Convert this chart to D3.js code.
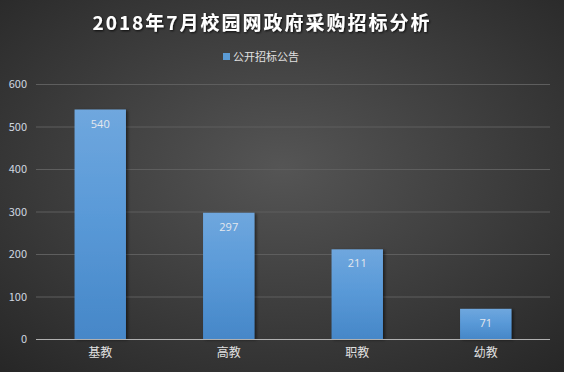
<!DOCTYPE html>
<html><head><meta charset="utf-8">
<script src="https://cdn.jsdelivr.net/npm/d3@7/dist/d3.min.js"></script>
<style>body{margin:0;background:#333;}svg{display:block;}</style>
</head><body>
<svg id="c" width="564" height="372"></svg>
<script>
const categories = ["基教", "高教", "职教", "幼教"];
const values = [540, 297, 211, 71];
const yTicks = [0, 100, 200, 300, 400, 500, 600];
const seriesName = "公开招标公告";
const titleText = "2018年7月校园网政府采购招标分析";

const W = 564, H = 372;
const svg = d3.select("#c");
const defs = svg.append("defs");
const bg = defs.append("radialGradient").attr("id","bg").attr("cx","50%").attr("cy","45%").attr("r","75%");
bg.append("stop").attr("offset","0%").attr("stop-color","#555555");
bg.append("stop").attr("offset","100%").attr("stop-color","#262626");
const bar = defs.append("linearGradient").attr("id","bar").attr("x1",0).attr("y1",0).attr("x2",0).attr("y2",1);
bar.append("stop").attr("offset","0%").attr("stop-color","#6fa7de");
bar.append("stop").attr("offset","45%").attr("stop-color","#5a9ad8");
bar.append("stop").attr("offset","100%").attr("stop-color","#4687c8");
const sh = defs.append("filter").attr("id","sh").attr("x","-20%").attr("y","-20%").attr("width","150%").attr("height","150%");
sh.append("feDropShadow").attr("dx",2).attr("dy",1).attr("stdDeviation",1.5).attr("flood-color","#000").attr("flood-opacity",0.5);
const tsh = defs.append("filter").attr("id","tsh");
tsh.append("feDropShadow").attr("dx",1).attr("dy",1).attr("stdDeviation",0.8).attr("flood-color","#000").attr("flood-opacity",0.8);

svg.append("rect").attr("width",W).attr("height",H).attr("fill","url(#bg)");

const x = d3.scaleBand().domain(categories).range([36, 550]).paddingInner(0.6).paddingOuter(0.3);
const y = d3.scaleLinear().domain([0, 600]).range([339, 84]);

// grid
svg.append("g").selectAll("line").data(yTicks.filter(d=>d>0)).join("line")
  .attr("x1",36).attr("x2",550).attr("y1",d=>y(d)+0.5).attr("y2",d=>y(d)+0.5)
  .attr("stroke","#5e5e5e").attr("stroke-width",1);

// y axis labels
const yAxis = d3.axisLeft(y).tickValues(yTicks).tickSize(0).tickPadding(0);
const ya = svg.append("g").attr("transform","translate(27,0)").call(yAxis);
ya.select(".domain").remove();
ya.selectAll("text").attr("fill","#d0d8e0").style("font-family","'Noto Sans CJK SC', 'Open Sans', sans-serif").style("font-size","11px");

// bars
svg.append("g").selectAll("rect").data(values).join("rect")
  .attr("x",(d,i)=>x(categories[i])).attr("width",x.bandwidth())
  .attr("y",d=>y(d)).attr("height",d=>y(0)-y(d))
  .attr("fill","url(#bar)").attr("filter","url(#sh)");

// value labels
svg.append("g").selectAll("text").data(values).join("text")
  .attr("x",(d,i)=>x(categories[i])+x.bandwidth()/2).attr("y",d=>y(d)+18)
  .attr("text-anchor","middle").attr("fill","#e4e8ee")
  .style("font-family","'Open Sans', 'Noto Sans', sans-serif").style("font-size","11px")
  .text(d=>d);

// x axis
const xAxis = d3.axisBottom(x).tickSize(0).tickPadding(9);
const xa = svg.append("g").attr("transform",`translate(0,${y(0)+0.5})`).call(xAxis);
xa.select(".domain").attr("stroke","#b0b0b0").attr("stroke-width",1.2).attr("d","M36,0H550");
xa.selectAll("text").attr("fill","#e0e0e0").style("font-family","'Noto Sans CJK SC', sans-serif").style("font-size","12px");

// title
svg.append("text").attr("x",262).attr("y",30).attr("text-anchor","middle")
  .attr("fill","#ffffff").attr("filter","url(#tsh)")
  .style("font-family","'Noto Sans CJK SC', sans-serif").style("font-size","19px").style("font-weight","bold")
  .style("letter-spacing","2px")
  .text(titleText);

// legend
const lg = svg.append("g");
lg.append("rect").attr("x",223).attr("y",53).attr("width",7).attr("height",7).attr("fill","#5b9bd5");
lg.append("text").attr("x",233).attr("y",61).attr("fill","#e0e0e0")
  .style("font-family","'Noto Sans CJK SC', sans-serif").style("font-size","11px")
  .text(seriesName);
</script>
</body></html>
